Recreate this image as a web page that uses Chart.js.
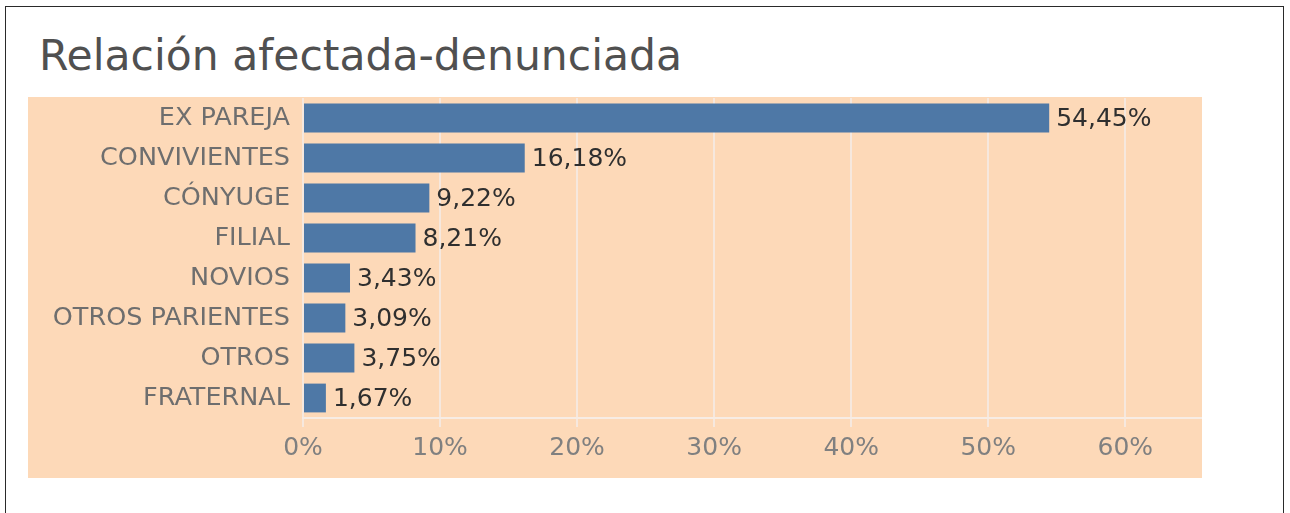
<!DOCTYPE html>
<html>
<head>
<meta charset="utf-8">
<script src="https://cdn.jsdelivr.net/npm/chart.js@4"></script>
<style>
  html, body { margin: 0; padding: 0; background: #fff; overflow: hidden; }
  body { width: 1290px; height: 513px; position: relative; }
  #frame { position: absolute; left: 5px; top: 6px; width: 1279px; height: 600px; border: 1.5px solid #2a2a2a; box-sizing: border-box; }
  #title { position: absolute; left: 39px; top: 31px; font-family: "DejaVu Sans", sans-serif; font-size: 42.5px; color: #505050; white-space: nowrap; }
  #panel { position: absolute; left: 28px; top: 97px; width: 1174px; height: 381px; background: #fdd9b8; }
  #panel canvas { display: block; }
</style>
</head>
<body>
<div id="frame"></div>
<div id="title">Relación afectada-denunciada</div>
<div id="panel"><canvas id="chart" width="1174" height="381"></canvas></div>
<script>
// data
const categories = ["EX PAREJA", "CONVIVIENTES", "CÓNYUGE", "FILIAL", "NOVIOS", "OTROS PARIENTES", "OTROS", "FRATERNAL"];
const shares = [54.45, 16.18, 9.22, 8.21, 3.43, 3.09, 3.75, 1.67];
const xTicks = [0, 10, 20, 30, 40, 50, 60];

const FONT = "DejaVu Sans";

// value labels at the end of each bar
const barLabels = {
  id: "barLabels",
  afterDatasetsDraw(chart) {
    const { ctx } = chart;
    const meta = chart.getDatasetMeta(0);
    ctx.save();
    ctx.font = `25px "${FONT}"`;
    ctx.fillStyle = "#2f2f2f";
    ctx.textAlign = "left";
    ctx.textBaseline = "middle";
    meta.data.forEach((bar, i) => {
      const txt = shares[i].toFixed(2).replace(".", ",") + "%";
      ctx.fillText(txt, bar.x + 7, bar.y + 1);
    });
    ctx.restore();
  },
};

const ctx = document.getElementById("chart");

new Chart(ctx, {
  type: "bar",
  data: {
    labels: categories,
    datasets: [
      {
        data: shares,
        backgroundColor: "#4e78a6",
        borderWidth: 0,
        barPercentage: 0.72,
        categoryPercentage: 1,
      },
    ],
  },
  options: {
    indexAxis: "y",
    responsive: false,
    animation: false,
    devicePixelRatio: 1,
    layout: { padding: { top: 1, right: 0, bottom: 0, left: 0 } },
    plugins: {
      legend: { display: false },
      tooltip: { enabled: false },
    },
    scales: {
      x: {
        min: 0,
        max: 65.6,
        afterBuildTicks: (scale) => {
          scale.ticks = xTicks.map((v) => ({ value: v }));
        },
        afterFit: (scale) => {
          scale.height = 60;
          scale.paddingLeft = 0;
          scale.paddingRight = 0;
        },
        grid: {
          color: "#f6e8de",
          lineWidth: 2,
          tickLength: 9,
        },
        border: { display: true, color: "#f7ece4", width: 2 },
        ticks: {
          color: "#808080",
          font: { family: FONT, size: 25 },
          padding: 6,
          callback: (v) => v + "%",
        },
      },
      y: {
        afterFit: (scale) => {
          scale.width = 275;
          scale.paddingTop = 0;
          scale.paddingBottom = 0;
        },
        grid: { display: false, drawTicks: false },
        border: { display: false },
        ticks: {
          color: "#6e6e6e",
          font: { family: FONT, size: 25.5 },
          padding: 13,
        },
      },
    },
  },
  plugins: [barLabels],
});
</script>
</body>
</html>
